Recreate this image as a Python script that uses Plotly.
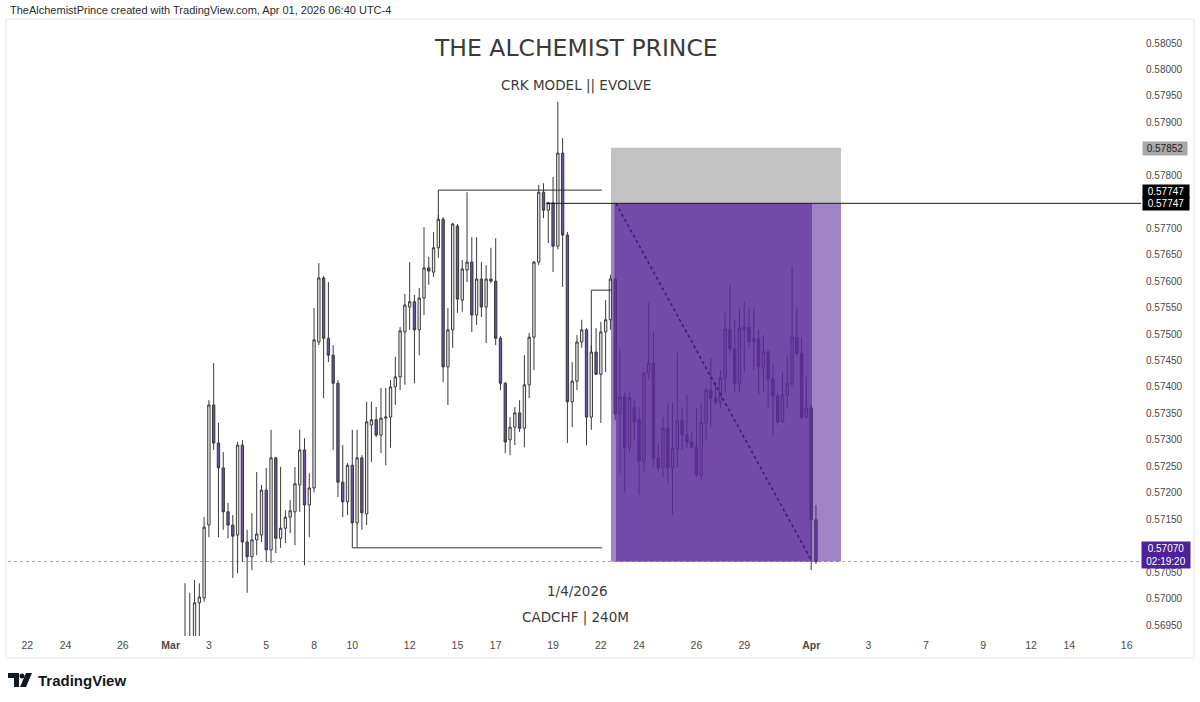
import plotly.graph_objects as go

# ---------------- data (CADCHF, 240M bars, Mar 2 -> Apr 1 2026) ----------------
bar_index = list(range(133))

open_ = [
    0.56893, 0.56903, 0.56925, 0.56992, 0.57001, 0.57139, 0.57366, 0.57294, 0.57247, 0.57164,
    0.57139, 0.57120, 0.57290, 0.57107, 0.57079, 0.57111, 0.57120, 0.57205, 0.57092, 0.57266,
    0.57114, 0.57133, 0.57154, 0.57164, 0.57215, 0.57281, 0.57177, 0.57209, 0.57485, 0.57606,
    0.57492, 0.57460, 0.57407, 0.57220, 0.57183, 0.57252, 0.57143, 0.57266, 0.57160, 0.57328,
    0.57338, 0.57309, 0.57341, 0.57343, 0.57400, 0.57419, 0.57504, 0.57551, 0.57561, 0.57508,
    0.57568, 0.57625, 0.57617, 0.57663, 0.57717, 0.57438, 0.57508, 0.57704, 0.57564, 0.57621,
    0.57636, 0.57536, 0.57604, 0.57551, 0.57604, 0.57600, 0.57492, 0.57407, 0.57300, 0.57324,
    0.57351, 0.57322, 0.57404, 0.57494, 0.57636, 0.57768, 0.57734, 0.57748, 0.57666, 0.57842,
    0.57687, 0.57372, 0.57411, 0.57485, 0.57508, 0.57343, 0.57466, 0.57424, 0.57504, 0.57527,
    0.57604, 0.57349, 0.57381, 0.57286, 0.57360, 0.57338, 0.57260, 0.57426, 0.57445, 0.57266,
    0.57247, 0.57322, 0.57247, 0.57283, 0.57336, 0.57309, 0.57296, 0.57286, 0.57234, 0.57332,
    0.57394, 0.57379, 0.57371, 0.57417, 0.57509, 0.57472, 0.57407, 0.57508, 0.57513, 0.57485,
    0.57491, 0.57438, 0.57466, 0.57415, 0.57383, 0.57334, 0.57385, 0.57407, 0.57494, 0.57464,
    0.57343, 0.57360, 0.57149,
]
high = [
    0.57029, 0.57011, 0.57035, 0.57029, 0.57154, 0.57375, 0.57445, 0.57332, 0.57277, 0.57181,
    0.57158, 0.57296, 0.57300, 0.57130, 0.57162, 0.57239, 0.57215, 0.57247, 0.57319, 0.57268,
    0.57249, 0.57167, 0.57186, 0.57249, 0.57319, 0.57303, 0.57237, 0.57549, 0.57634, 0.57610,
    0.57598, 0.57479, 0.57413, 0.57290, 0.57256, 0.57319, 0.57319, 0.57271, 0.57372, 0.57372,
    0.57362, 0.57398, 0.57398, 0.57413, 0.57457, 0.57513, 0.57576, 0.57636, 0.57574, 0.57587,
    0.57702, 0.57646, 0.57693, 0.57725, 0.57721, 0.57549, 0.57710, 0.57708, 0.57640, 0.57768,
    0.57683, 0.57683, 0.57636, 0.57630, 0.57663, 0.57681, 0.57496, 0.57409, 0.57343, 0.57362,
    0.57375, 0.57460, 0.57502, 0.57638, 0.57782, 0.57785, 0.57750, 0.57797, 0.57939, 0.57870,
    0.57693, 0.57447, 0.57498, 0.57527, 0.57511, 0.57479, 0.57511, 0.57523, 0.57564, 0.57612,
    0.57747, 0.57472, 0.57390, 0.57390, 0.57375, 0.57362, 0.57428, 0.57559, 0.57504, 0.57294,
    0.57343, 0.57370, 0.57370, 0.57464, 0.57360, 0.57385, 0.57315, 0.57360, 0.57370, 0.57400,
    0.57455, 0.57409, 0.57432, 0.57540, 0.57593, 0.57527, 0.57549, 0.57561, 0.57551, 0.57551,
    0.57508, 0.57498, 0.57470, 0.57441, 0.57389, 0.57428, 0.57460, 0.57627, 0.57549, 0.57494,
    0.57419, 0.57366, 0.57177,
]
low = [
    0.56865, 0.56874, 0.56903, 0.56927, 0.56994, 0.57116, 0.57281, 0.57116, 0.57130, 0.57114,
    0.57039, 0.57048, 0.57069, 0.57011, 0.57054, 0.57082, 0.57107, 0.57069, 0.57067, 0.57086,
    0.57096, 0.57105, 0.57124, 0.57101, 0.57164, 0.57063, 0.57116, 0.57201, 0.57479, 0.57379,
    0.57447, 0.57281, 0.57192, 0.57154, 0.57158, 0.57096, 0.57097, 0.57130, 0.57139, 0.57258,
    0.57305, 0.57275, 0.57252, 0.57285, 0.57366, 0.57394, 0.57404, 0.57508, 0.57407, 0.57460,
    0.57536, 0.57593, 0.57608, 0.57644, 0.57409, 0.57366, 0.57474, 0.57540, 0.57542, 0.57598,
    0.57504, 0.57517, 0.57532, 0.57483, 0.57596, 0.57479, 0.57394, 0.57275, 0.57271, 0.57290,
    0.57315, 0.57286, 0.57379, 0.57432, 0.57630, 0.57719, 0.57672, 0.57617, 0.57660, 0.57589,
    0.57294, 0.57324, 0.57394, 0.57474, 0.57290, 0.57319, 0.57423, 0.57332, 0.57428, 0.57508,
    0.57338, 0.57237, 0.57200, 0.57275, 0.57300, 0.57196, 0.57239, 0.57413, 0.57249, 0.57239,
    0.57230, 0.57218, 0.57158, 0.57247, 0.57281, 0.57286, 0.57285, 0.57230, 0.57224, 0.57300,
    0.57324, 0.57366, 0.57360, 0.57389, 0.57464, 0.57389, 0.57389, 0.57428, 0.57475, 0.57432,
    0.57385, 0.57389, 0.57362, 0.57309, 0.57328, 0.57332, 0.57362, 0.57400, 0.57460, 0.57338,
    0.57341, 0.57054, 0.57065,
]
close = [
    0.56912, 0.56922, 0.56992, 0.57003, 0.57135, 0.57366, 0.57294, 0.57247, 0.57164, 0.57139,
    0.57118, 0.57290, 0.57107, 0.57079, 0.57111, 0.57122, 0.57205, 0.57092, 0.57266, 0.57114,
    0.57133, 0.57154, 0.57166, 0.57217, 0.57281, 0.57177, 0.57209, 0.57489, 0.57606, 0.57492,
    0.57460, 0.57407, 0.57220, 0.57183, 0.57252, 0.57143, 0.57266, 0.57162, 0.57334, 0.57338,
    0.57309, 0.57341, 0.57343, 0.57400, 0.57419, 0.57506, 0.57555, 0.57561, 0.57508, 0.57568,
    0.57625, 0.57619, 0.57663, 0.57717, 0.57438, 0.57508, 0.57708, 0.57566, 0.57623, 0.57636,
    0.57536, 0.57604, 0.57551, 0.57604, 0.57600, 0.57492, 0.57407, 0.57296, 0.57324, 0.57351,
    0.57322, 0.57404, 0.57494, 0.57636, 0.57768, 0.57734, 0.57748, 0.57666, 0.57842, 0.57687,
    0.57372, 0.57411, 0.57485, 0.57508, 0.57343, 0.57466, 0.57424, 0.57504, 0.57527, 0.57604,
    0.57349, 0.57381, 0.57286, 0.57379, 0.57334, 0.57260, 0.57426, 0.57445, 0.57266, 0.57247,
    0.57322, 0.57247, 0.57283, 0.57336, 0.57309, 0.57296, 0.57286, 0.57234, 0.57332, 0.57394,
    0.57379, 0.57371, 0.57417, 0.57509, 0.57472, 0.57407, 0.57511, 0.57513, 0.57485, 0.57491,
    0.57438, 0.57466, 0.57415, 0.57383, 0.57334, 0.57385, 0.57407, 0.57494, 0.57464, 0.57343,
    0.57360, 0.57149, 0.57070,
]

# time-axis labels (bar positions of each day start)
date_tick_bars = [-33, -25, -13, -3, 5, 17, 27, 35, 47, 57, 65, 77, 87, 95, 107, 117, 131,
                  143, 155, 167, 177, 185, 197]
date_tick_labels = ["22", "24", "26", "<b>Mar</b>", "3", "5", "8", "10", "12", "15", "17",
                    "19", "22", "24", "26", "29", "<b>Apr</b>", "3", "7", "9", "12", "14", "16"]

# price scale labels (0.57750 / 0.57850 / 0.57100 are hidden behind the level labels)
price_ticks = [0.56950, 0.57000, 0.57050, 0.57150, 0.57200, 0.57250, 0.57300,
               0.57350, 0.57400, 0.57450, 0.57500, 0.57550, 0.57600, 0.57650, 0.57700,
               0.57800, 0.57900, 0.57950, 0.58000, 0.58050]

# position tool / drawing levels
stop_price = 0.57852
entry_price = 0.57747
target_price = 0.57070
last_price = 0.57070
range_high = 0.57772
range_low = 0.57096
local_high = 0.57583
countdown = "02:19:20"

# ---------------- layout geometry (pixels) ----------------
W, H = 1200, 702
PL, PR, PT, PB = 8, 1141, 19, 636          # plot box in pixels
X_RANGE = [-37.03, 200.0]
Y_RANGE = [0.569293, 0.580954]


def px(X):
    return (X - PL) / (PR - PL)


def py(Y):
    return (PB - Y) / (PB - PT)


FONT = "Liberation Sans"
TXT = "#3b3b3b"

fig = go.Figure()
fig.add_trace(go.Candlestick(
    x=bar_index, open=open_, high=high, low=low, close=close,
    increasing=dict(fillcolor="#ededed", line=dict(color="#3a3a3a", width=1)),
    decreasing=dict(fillcolor="#6b4fa1", line=dict(color="#3a3a3a", width=1)),
    whiskerwidth=0, showlegend=False, hoverinfo="skip",
))

shapes = []
# outer frame
shapes.append(dict(type="rect", xref="paper", yref="paper", x0=px(6), x1=px(1194),
                   y0=py(658), y1=py(19), line=dict(color="#e4e4e4", width=1), layer="below"))
# last price dotted line
shapes.append(dict(type="line", xref="x", yref="y", x0=X_RANGE[0], x1=X_RANGE[1],
                   y0=last_price, y1=last_price, line=dict(color="#a8a8a8", width=1, dash="dot"),
                   layer="below"))
# position tool zones
box_x0, box_x1 = 89.12, 137.24
hit_x0, hit_x1 = 90.17, 131.17
shapes.append(dict(type="rect", xref="x", yref="y", x0=box_x0, x1=box_x1, y0=entry_price,
                   y1=stop_price, fillcolor="rgba(150,150,150,0.58)", line=dict(width=0),
                   layer="above"))
shapes.append(dict(type="rect", xref="x", yref="y", x0=box_x0, x1=box_x1, y0=target_price,
                   y1=entry_price, fillcolor="rgba(90,41,153,0.58)", line=dict(width=0),
                   layer="above"))
shapes.append(dict(type="rect", xref="x", yref="y", x0=hit_x0, x1=hit_x1, y0=target_price,
                   y1=entry_price, fillcolor="rgba(90,41,153,0.64)", line=dict(width=0),
                   layer="above"))
shapes.append(dict(type="line", xref="x", yref="y", x0=hit_x0, x1=hit_x1, y0=entry_price,
                   y1=target_price, line=dict(color="#3a1c6e", width=1.5, dash="dot"),
                   layer="above"))
# entry ray
shapes.append(dict(type="line", xref="x", yref="y", x0=75.5, x1=X_RANGE[1], y0=entry_price,
                   y1=entry_price, line=dict(color="#1a1a1a", width=1), layer="above"))
# range high line
shapes.append(dict(type="line", xref="x", yref="y", x0=53, x1=53, y0=close[53], y1=range_high,
                   line=dict(color="#333333", width=1), layer="above"))
shapes.append(dict(type="line", xref="x", yref="y", x0=53, x1=87.2, y0=range_high,
                   y1=range_high, line=dict(color="#333333", width=1), layer="above"))
# range low line
shapes.append(dict(type="line", xref="x", yref="y", x0=35, x1=87.2, y0=range_low,
                   y1=range_low, line=dict(color="#333333", width=1), layer="above"))
# local high bracket
shapes.append(dict(type="line", xref="x", yref="y", x0=85, x1=85, y0=close[85], y1=local_high,
                   line=dict(color="#333333", width=1), layer="above"))
shapes.append(dict(type="line", xref="x", yref="y", x0=85, x1=89.3, y0=local_high,
                   y1=local_high, line=dict(color="#333333", width=1), layer="above"))

# TradingView logo mark
LOGO = "#131722"
shapes.append(dict(type="rect", xref="paper", yref="paper", x0=px(8), x1=px(19), y0=py(678),
                   y1=py(673), fillcolor=LOGO, line=dict(width=0)))
shapes.append(dict(type="rect", xref="paper", yref="paper", x0=px(14), x1=px(19), y0=py(687),
                   y1=py(673), fillcolor=LOGO, line=dict(width=0)))
shapes.append(dict(type="circle", xref="paper", yref="paper", x0=px(19.5), x1=px(24.5),
                   y0=py(678.5), y1=py(673.5), fillcolor=LOGO, line=dict(width=0)))
shapes.append(dict(type="path", xref="paper", yref="paper",
                   path="M {} {} L {} {} L {} {} L {} {} Z".format(px(26), py(673), px(32), py(673),
                                                                px(26), py(687), px(20), py(687)),
                   fillcolor=LOGO, line=dict(width=0)))

annotations = [
    dict(text="TheAlchemistPrince created with TradingView.com, Apr 01, 2026 06:40 UTC-4",
         x=px(8), y=py(10), xref="paper", yref="paper", xanchor="left", yanchor="middle",
         showarrow=False, font=dict(family=FONT, size=11, color="#2b2b2b")),
    dict(text="THE ALCHEMIST PRINCE", x=px(575.5), y=py(48), xref="paper", yref="paper",
         xanchor="center", yanchor="middle", showarrow=False,
         font=dict(family="DejaVu Sans", size=23.5, color=TXT)),
    dict(text="CRK MODEL || EVOLVE", x=px(575.5), y=py(85), xref="paper", yref="paper",
         xanchor="center", yanchor="middle", showarrow=False,
         font=dict(family="DejaVu Sans", size=13.5, color=TXT)),
    dict(text="1/4/2026", x=px(577), y=py(591), xref="paper", yref="paper",
         xanchor="center", yanchor="middle", showarrow=False,
         font=dict(family="DejaVu Sans", size=13.5, color=TXT)),
    dict(text="CADCHF | 240M", x=px(575.5), y=py(617), xref="paper", yref="paper",
         xanchor="center", yanchor="middle", showarrow=False,
         font=dict(family="DejaVu Sans", size=13.5, color=TXT)),
    dict(text="<b>TradingView</b>", x=px(36), y=py(680), xref="paper", yref="paper",
         xanchor="left", yanchor="middle", showarrow=False,
         font=dict(family=FONT, size=15, color=LOGO)),
    # price scale labels
    dict(text="{:.5f}".format(stop_price), x=px(1165), y=py(148.5), xref="paper", yref="paper",
         xanchor="center", yanchor="middle", showarrow=False, bgcolor="#a9a9a9", width=42,
         borderpad=1, font=dict(family=FONT, size=10, color="#222222")),
    dict(text="{:.5f}".format(entry_price), x=px(1165.5), y=py(191.5), xref="paper", yref="paper",
         xanchor="center", yanchor="middle", showarrow=False, bgcolor="#000000", width=44,
         borderpad=1, font=dict(family=FONT, size=10, color="#ffffff")),
    dict(text="{:.5f}".format(entry_price), x=px(1165.5), y=py(204), xref="paper", yref="paper",
         xanchor="center", yanchor="middle", showarrow=False, bgcolor="#000000", width=44,
         borderpad=1, font=dict(family=FONT, size=10, color="#ffffff")),
    dict(text="{:.5f}<br>{}".format(last_price, countdown), x=px(1166), y=py(555),
         xref="paper", yref="paper", xanchor="center", yanchor="middle", showarrow=False,
         bgcolor="#4e2296", width=46, borderpad=1,
         font=dict(family=FONT, size=10, color="#ffffff")),
]

fig.update_layout(
    width=W, height=H,
    margin=dict(l=PL, r=W - PR, t=PT, b=H - PB),
    paper_bgcolor="#ffffff", plot_bgcolor="#ffffff",
    showlegend=False,
    shapes=shapes, annotations=annotations,
    xaxis=dict(range=X_RANGE, rangeslider=dict(visible=False), showgrid=False, zeroline=False,
               showline=False, ticks="", tickmode="array", tickvals=date_tick_bars,
               ticktext=date_tick_labels, ticklabelstandoff=1,
               tickfont=dict(family=FONT, size=10.5, color="#4a4a4a")),
    yaxis=dict(range=Y_RANGE, side="right", showgrid=False, zeroline=False, showline=False,
               ticks="", tickmode="array", tickvals=price_ticks,
               ticktext=["{:.5f}".format(v) for v in price_ticks], ticklabelstandoff=4,
               tickfont=dict(family=FONT, size=10, color="#4a4a4a")),
)

# the page's default 8px body margin would shift the chart; remove it
fig.write_html("out.html", config={"displayModeBar": False},
               post_script="document.body.style.margin='0';")
